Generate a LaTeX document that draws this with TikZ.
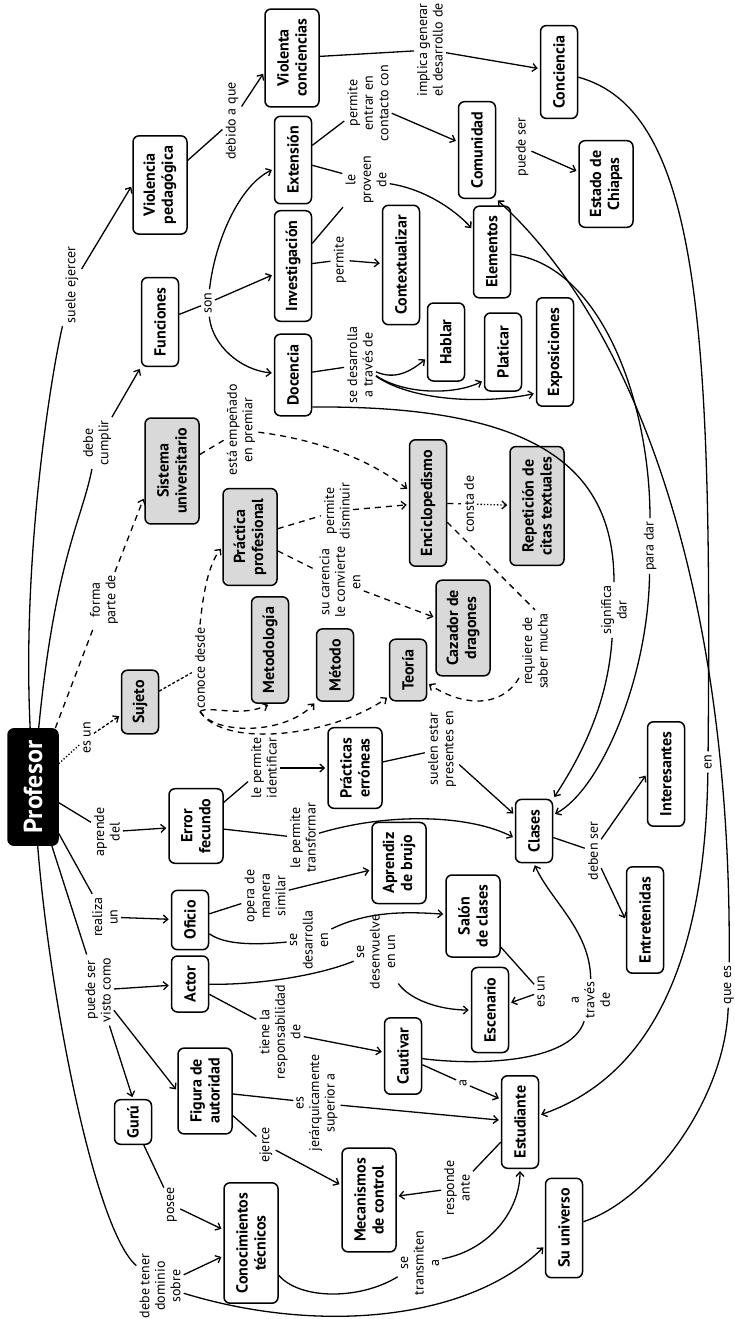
\documentclass[tikz,border=0pt]{standalone}
\usepackage{fontspec}
\setmainfont{PT Sans}
\usetikzlibrary{arrows.meta}

\begin{document}
\begin{tikzpicture}[x=1pt,y=-1pt,
    concept/.style={draw,line width=1.5pt,rounded corners=6pt,rotate=90,align=center,
        font=\bfseries\fontsize{16}{18}\selectfont,inner xsep=10pt,inner ysep=2pt,minimum height=37pt},
    two/.style={minimum height=54pt},
    greybox/.style={concept,fill=black!15},
    lbl/.style={rotate=90,align=center,font=\fontsize{14}{15.5}\selectfont,inner sep=3pt},
    con/.style={line width=1.3pt},
    arr/.style={con,-{Straight Barb[length=4.5pt,width=8pt]},shorten >=2pt},
    dsh/.style={dash pattern=on 6pt off 5pt}]
    \useasboundingbox (0,0) rectangle (734,1319);

    % concepts
    \node[concept,fill=black,text=white,font=\bfseries\fontsize{26}{28}\selectfont,minimum height=50pt,inner xsep=12pt] (prof) at (33,787) {Profesor};
    \node[greybox] (sujeto) at (140,702) {Sujeto};
    \node[concept,two] (error) at (196,826) {Error\\fecundo};
    \node[concept] (oficio) at (190,920) {Oficio};
    \node[concept] (actor) at (190,984) {Actor};
    \node[concept,two] (figura) at (205,1091) {Figura de\\autoridad};
    \node[concept,inner xsep=6pt] (guru) at (133,1122) {Gurú};
    \node[concept,two] (conoc) at (251,1243) {Conocimientos\\técnicos};
    \node[concept,two] (mecan) at (369,1200) {Mecanismos\\de control};
    \node[concept,two] (practicas) at (355,768) {Prácticas\\erróneas};
    \node[greybox] (metodologia) at (270,650) {Metodología};
    \node[greybox] (metodo) at (335,665) {Método};
    \node[greybox] (teoria) at (408,670) {Teoría};
    \node[greybox,two] (cazador) at (463,628) {Cazador de\\dragones};
    \node[greybox,two] (practprof) at (250,537) {Práctica\\profesional};
    \node[greybox,two] (sistema) at (172,471) {Sistema\\universitario};
    \node[concept] (funciones) at (160,322) {Funciones};
    \node[concept,two] (violped) at (160,185) {Violencia\\pedagógica};
    \node[concept] (docencia) at (293,375) {Docencia};
    \node[concept] (investig) at (293,266) {Investigación};
    \node[concept] (extension) at (293,160) {Extensión};
    \node[concept,two] (violconc) at (292,58) {Violenta\\conciencias};
    \node[concept] (conciencia) at (559,72) {Conciencia};
    \node[concept] (comunidad) at (477,150) {Comunidad};
    \node[concept,two] (chiapas) at (606,184) {Estado de\\Chiapas};
    \node[concept] (context) at (401,265) {Contextualizar};
    \node[concept] (elementos) at (492,252) {Elementos};
    \node[concept,minimum width=78pt] (hablar) at (446,342) {Hablar};
    \node[concept,minimum width=78pt] (platicar) at (503,352) {Platicar};
    \node[concept] (exposic) at (555,352) {Exposiciones};
    \node[greybox] (enciclo) at (428,503) {Enciclopedismo};
    \node[greybox,two] (repet) at (537,506) {Repetición de\\citas textuales};
    \node[concept] (clases) at (534,831) {Clases};
    \node[concept,two] (aprendiz) at (399,863) {Aprendiz\\de brujo};
    \node[concept,two] (salon) at (473,916) {Salón\\de clases};
    \node[concept] (interes) at (666,774) {Interesantes};
    \node[concept] (entret) at (645,920) {Entretenidas};
    \node[concept] (escenario) at (490,1010) {Escenario};
    \node[concept] (cautivar) at (403,1056) {Cautivar};
    \node[concept] (estud) at (520,1122) {Estudiante};
    \node[concept] (universo) at (564,1228) {Su universo};

    % linking words
    \node[lbl] (l_suele) at (72,285) {suele ejercer};
    \node[lbl] (l_debe) at (97,443) {debe\\cumplir};
    \node[lbl] (l_forma) at (104,600) {forma\\parte de};
    \node[lbl] (l_esun) at (87,738) {es un};
    \node[lbl] (l_conoce) at (200,668) {conoce desde};
    \node[lbl] (l_aprende) at (107,832) {aprende\\del};
    \node[lbl] (l_realiza) at (105,917) {realiza\\un};
    \node[lbl] (l_puede) at (98,990) {puede ser\\visto como};
    \node[lbl] (l_dominio) at (160,1286) {debe tener\\dominio\\sobre};
    \node[lbl] (l_identif) at (264,768) {le permite\\identificar};
    \node[lbl] (l_transf) at (303,838) {le permite\\transformar};
    \node[lbl] (l_opera) at (265,896) {opera de\\manera\\similar};
    \node[lbl] (l_sedes) at (309,940) {se\\desarrolla\\en};
    \node[lbl] (l_tiene) at (280,1032) {tiene la\\responsabilidad\\de};
    \node[lbl] (l_jerar) at (317,1103) {es\\jerárquicamente\\superior a};
    \node[lbl] (l_ejerce) at (266,1145) {ejerce};
    \node[lbl] (l_posee) at (172,1205) {posee};
    \node[lbl] (l_transm) at (420,1263) {se\\transmiten\\a};
    \node[lbl] (l_responde) at (457,1188) {responde\\ante};
    \node[lbl] (l_a) at (463,1083) {a};
    \node[lbl] (l_atraves) at (591,1000) {a\\través\\de};
    \node[lbl] (l_esun2) at (541,992) {es un};
    \node[lbl] (l_desenv) at (376,952) {se\\desenvuelve\\en un};
    \node[lbl] (l_suelen) at (442,749) {suelen estar\\presentes en};
    \node[lbl] (l_requiere) at (535,651) {requiere de\\saber mucha};
    \node[lbl] (l_consta) at (469,504) {consta de};
    \node[lbl] (l_disminuir) at (337,511) {permite\\disminuir};
    \node[lbl] (l_carencia) at (340,582) {su carencia\\le convierte\\en};
    \node[lbl] (l_empenado) at (241,430) {está empeñado\\en premiar};
    \node[lbl] (l_atraves2) at (360,365) {se desarrolla\\a través de};
    \node[lbl] (l_son) at (208,303) {son};
    \node[lbl] (l_debido) at (232,121) {debido a que};
    \node[lbl] (l_permite) at (340,260) {permite};
    \node[lbl] (l_proveen) at (366,180) {le\\proveen\\de};
    \node[lbl] (l_contacto) at (368,103) {permite\\entrar en\\contacto con};
    \node[lbl] (l_implica) at (430,50) {implica generar\\el desarrollo de};
    \node[lbl] (l_puedeser) at (522,147) {puede ser};
    \node[lbl] (l_signif) at (614,610) {significa\\dar};
    \node[lbl] (l_paradar) at (650,546) {para dar};
    \node[lbl] (l_deben) at (593,851) {deben ser};
    \node[lbl] (l_en) at (708,762) {en};
    \node[lbl] (l_quees) at (729,985) {que es};

    % Profesor
    \draw[con] (prof) .. controls (22,560) and (50,380) .. (l_suele);
    \draw[arr] (l_suele) -- (violped.north);
    \draw[con] (prof) .. controls (55,560) and (82,520) .. (l_debe);
    \draw[arr] (l_debe) -- (funciones.north west);
    \draw[con,dsh] (prof) -- (l_forma);
    \draw[arr,dsh] (l_forma) -- (sistema.133);
    \draw[con,dotted] (prof) -- (l_esun);
    \draw[arr,densely dashed] (l_esun) -- (sujeto);
    \draw[con,densely dashed] (sujeto) -- (l_conoce);
    \draw[arr,dsh] (l_conoce.east) .. controls (203,595) and (208,565) .. (practprof.110);
    \draw[arr,dsh] (l_conoce.west) .. controls (208,705) and (240,718) .. (metodologia.west);
    \draw[arr,dsh] (l_conoce.west) .. controls (215,735) and (285,735) .. (metodo.north west);
    \draw[arr,dsh] (l_conoce.west) .. controls (225,750) and (335,735) .. (teoria.144);
    \draw[con] (prof) -- (l_aprende);
    \draw[arr] (l_aprende) -- (error);
    \draw[con] (prof) -- (l_realiza);
    \draw[arr] (l_realiza) -- (oficio);
    \draw[con] (prof) -- (l_puede);
    \draw[arr] (l_puede) -- (actor);
    \draw[arr] (l_puede) -- (figura.north);
    \draw[arr] (l_puede) -- (guru.east);
    \draw[con] (prof) .. controls (50,1000) and (95,1230) .. (l_dominio);
    \draw[arr] (l_dominio) -- (conoc);
    \draw[arr] (l_dominio) .. controls (320,1335) and (470,1320) .. (universo.133);

    % lower left
    \draw[con] (guru) -- (l_posee);
    \draw[arr] (l_posee) -- (conoc);
    \draw[con] (figura) -- (l_ejerce);
    \draw[arr] (l_ejerce) -- (mecan);
    \draw[con] (figura) -- (l_jerar);
    \draw[arr] (l_jerar) -- (estud);
    \draw[con] (actor) -- (l_tiene);
    \draw[arr] (l_tiene) -- (cautivar);
    \draw[con] (actor) .. controls (260,985) and (320,975) .. (l_desenv);
    \draw[arr] (l_desenv) .. controls (410,1000) and (440,1010) .. (escenario);
    \draw[con] (cautivar) -- (l_a);
    \draw[arr] (l_a) -- (estud.40);
    \draw[con] (cautivar) .. controls (470,1065) and (570,1065) .. (l_atraves);
    \draw[arr] (l_atraves) .. controls (590,930) and (550,900) .. (clases.west);
    \draw[con] (conoc) .. controls (300,1300) and (360,1300) .. (l_transm);
    \draw[arr] (l_transm) .. controls (490,1250) and (520,1210) .. (estud);
    \draw[con] (estud) -- (l_responde);
    \draw[arr] (l_responde) -- (mecan);

    % middle
    \draw[con] (oficio) -- (l_opera);
    \draw[arr] (l_opera) -- (aprendiz);
    \draw[con] (oficio) .. controls (225,945) and (255,945) .. (l_sedes);
    \draw[arr] (l_sedes) .. controls (370,910) and (410,912) .. (salon);
    \draw[con] (error) -- (l_identif);
    \draw[arr] (l_identif) -- (practicas);
    \draw[con] (error) -- (l_transf);
    \draw[arr] (l_transf) .. controls (390,812) and (470,815) .. (clases.110);
    \draw[con] (practicas) -- (l_suelen);
    \draw[arr] (l_suelen) -- (clases.50);
    \draw[con] (salon) -- (l_esun2);
    \draw[arr] (l_esun2) -- (escenario);
    \draw[con] (clases) -- (l_deben);
    \draw[arr] (l_deben) -- (interes.north);
    \draw[arr] (l_deben) -- (entret.north);

    % upper part
    \draw[con] (funciones) -- (l_son);
    \draw[arr] (l_son) -- (investig);
    \draw[arr] (l_son) .. controls (215,240) and (240,185) .. (extension);
    \draw[arr] (l_son) .. controls (212,345) and (240,370) .. (docencia);
    \draw[con] (violped) -- (l_debido);
    \draw[arr] (l_debido) -- (violconc.117);
    \draw[con] (violconc) -- (l_implica);
    \draw[arr] (l_implica) -- (conciencia);
    \draw[con] (docencia) -- (l_atraves2);
    \draw[arr] (l_atraves2) .. controls (395,380) and (410,372) .. (hablar);
    \draw[arr] (l_atraves2) .. controls (405,395) and (455,395) .. (platicar.146);
    \draw[arr] (l_atraves2) .. controls (410,400) and (480,405) .. (exposic.155);
    \draw[con] (docencia.211) .. controls (540,405) and (614,470) .. (l_signif);
    \draw[arr] (l_signif) .. controls (608,700) and (585,750) .. (clases.south east);
    \draw[con] (investig) -- (l_permite);
    \draw[arr] (l_permite) -- (context);
    \draw[con] (investig) -- (l_proveen);
    \draw[con] (extension) -- (l_proveen);
    \draw[con] (extension) -- (l_contacto);
    \draw[arr] (l_contacto) -- (comunidad);
    \draw[arr] (l_proveen) .. controls (430,190) and (460,215) .. (elementos);
    \draw[arr] (l_puedeser) -- (chiapas);
    \draw[con] (elementos) .. controls (600,265) and (650,400) .. (l_paradar);
    \draw[arr] (l_paradar) .. controls (648,680) and (600,790) .. (clases.310);
    \draw[con] (conciencia) .. controls (700,110) and (712,330) .. (l_en);
    \draw[arr] (l_en) .. controls (705,980) and (640,1080) .. (estud);
    \draw[con] (universo) .. controls (650,1200) and (725,1100) .. (l_quees);
    \draw[arr] (l_quees) .. controls (732,600) and (640,330) .. (comunidad.south west);

    % dashed part
    \draw[con,dsh] (sistema) -- (l_empenado);
    \draw[arr,dsh] (l_empenado) .. controls (320,440) and (370,460) .. (enciclo.56);
    \draw[con,dsh] (practprof) -- (l_disminuir);
    \draw[arr,dsh] (l_disminuir) -- (enciclo);
    \draw[con,dsh] (practprof) -- (l_carencia);
    \draw[arr,dsh] (l_carencia) -- (cazador);
    \draw[con,dsh] (enciclo) -- (l_consta);
    \draw[arr,dotted] (l_consta) -- (repet);
    \draw[con,dsh] (enciclo) -- (l_requiere.east);
    \draw[arr,dsh] (l_requiere) .. controls (500,710) and (460,705) .. (teoria);
\end{tikzpicture}
\end{document}
